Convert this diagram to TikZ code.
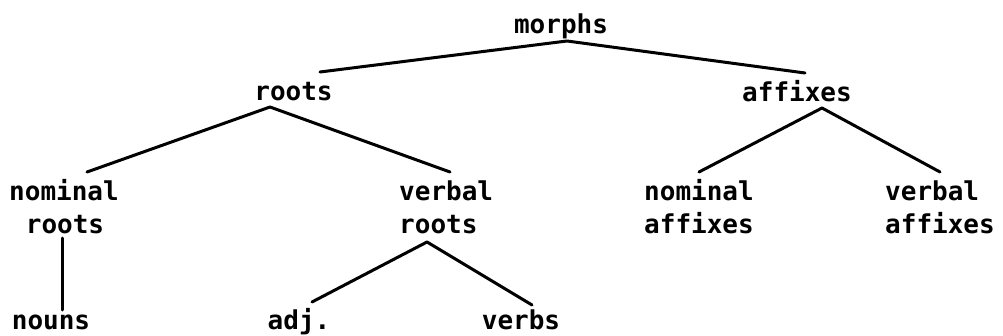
\documentclass[tikz,border=0pt]{standalone}
\usepackage{fontspec}
\setmonofont{DejaVu Sans Mono}
\usetikzlibrary{calc}
\begin{document}
\begin{tikzpicture}[x=1pt,y=1pt,
  lbl/.style={font=\ttfamily\bfseries\fontsize{26}{30}\selectfont, inner sep=0pt, anchor=base},
  lblw/.style={lbl, anchor=base west},
  branch/.style={line width=3pt, line cap=round, line join=round}]
  \useasboundingbox (0,0) rectangle (1003,335);

  % level 0
  \node[lbl] (morphs) at (561,301) {morphs};
  % level 1
  \node[lbl] (roots) at (293.5,234) {roots};
  \node[lbl] (affixes) at (797,233) {affixes};
  % level 2 (two-line labels)
  \node[lbl] (nomroots) at (64,135) {nominal};
  \node[lbl] (nomroots2) at (65,102) {roots};
  \node[lblw] (verroots) at (399,135) {verbal};
  \node[lblw] (verroots2) at (399,102) {roots};
  \node[lblw] (nomaff) at (644,135) {nominal};
  \node[lblw] (nomaff2) at (644,102) {affixes};
  \node[lblw] (veraff) at (885,135) {verbal};
  \node[lblw] (veraff2) at (885,102) {affixes};
  % level 3
  \node[lbl] (nouns) at (51,6) {nouns};
  \node[lbl] (adj) at (299,6) {adj.};
  \node[lbl] (verbs) at (521,6) {verbs};

  % branches
  \coordinate (mtop) at ($(morphs.base)+(6,-7)$);
  \draw[branch] ($(roots.base)+(26.5,29)$) -- (mtop) -- ($(affixes.base)+(8,29)$);

  \coordinate (rtop) at ($(roots.base)+(-23.5,-6)$);
  \draw[branch] ($(nomroots.base)+(23,28)$) -- (rtop) -- ($(verroots.base west)+(51,28)$);

  \coordinate (atop) at ($(affixes.base)+(25,-6)$);
  \draw[branch] ($(nomaff.base west)+(55,28)$) -- (atop) -- ($(veraff.base west)+(55,28)$);

  \draw[branch] ($(nomroots2.base)+(-3,-5)$) -- ($(nouns.base)+(11,19)$);

  \coordinate (vtop) at ($(verroots2.base west)+(28,-9)$);
  \draw[branch] ($(adj.base)+(13,27)$) -- (vtop) -- ($(verbs.base)+(11,24)$);
\end{tikzpicture}
\end{document}
